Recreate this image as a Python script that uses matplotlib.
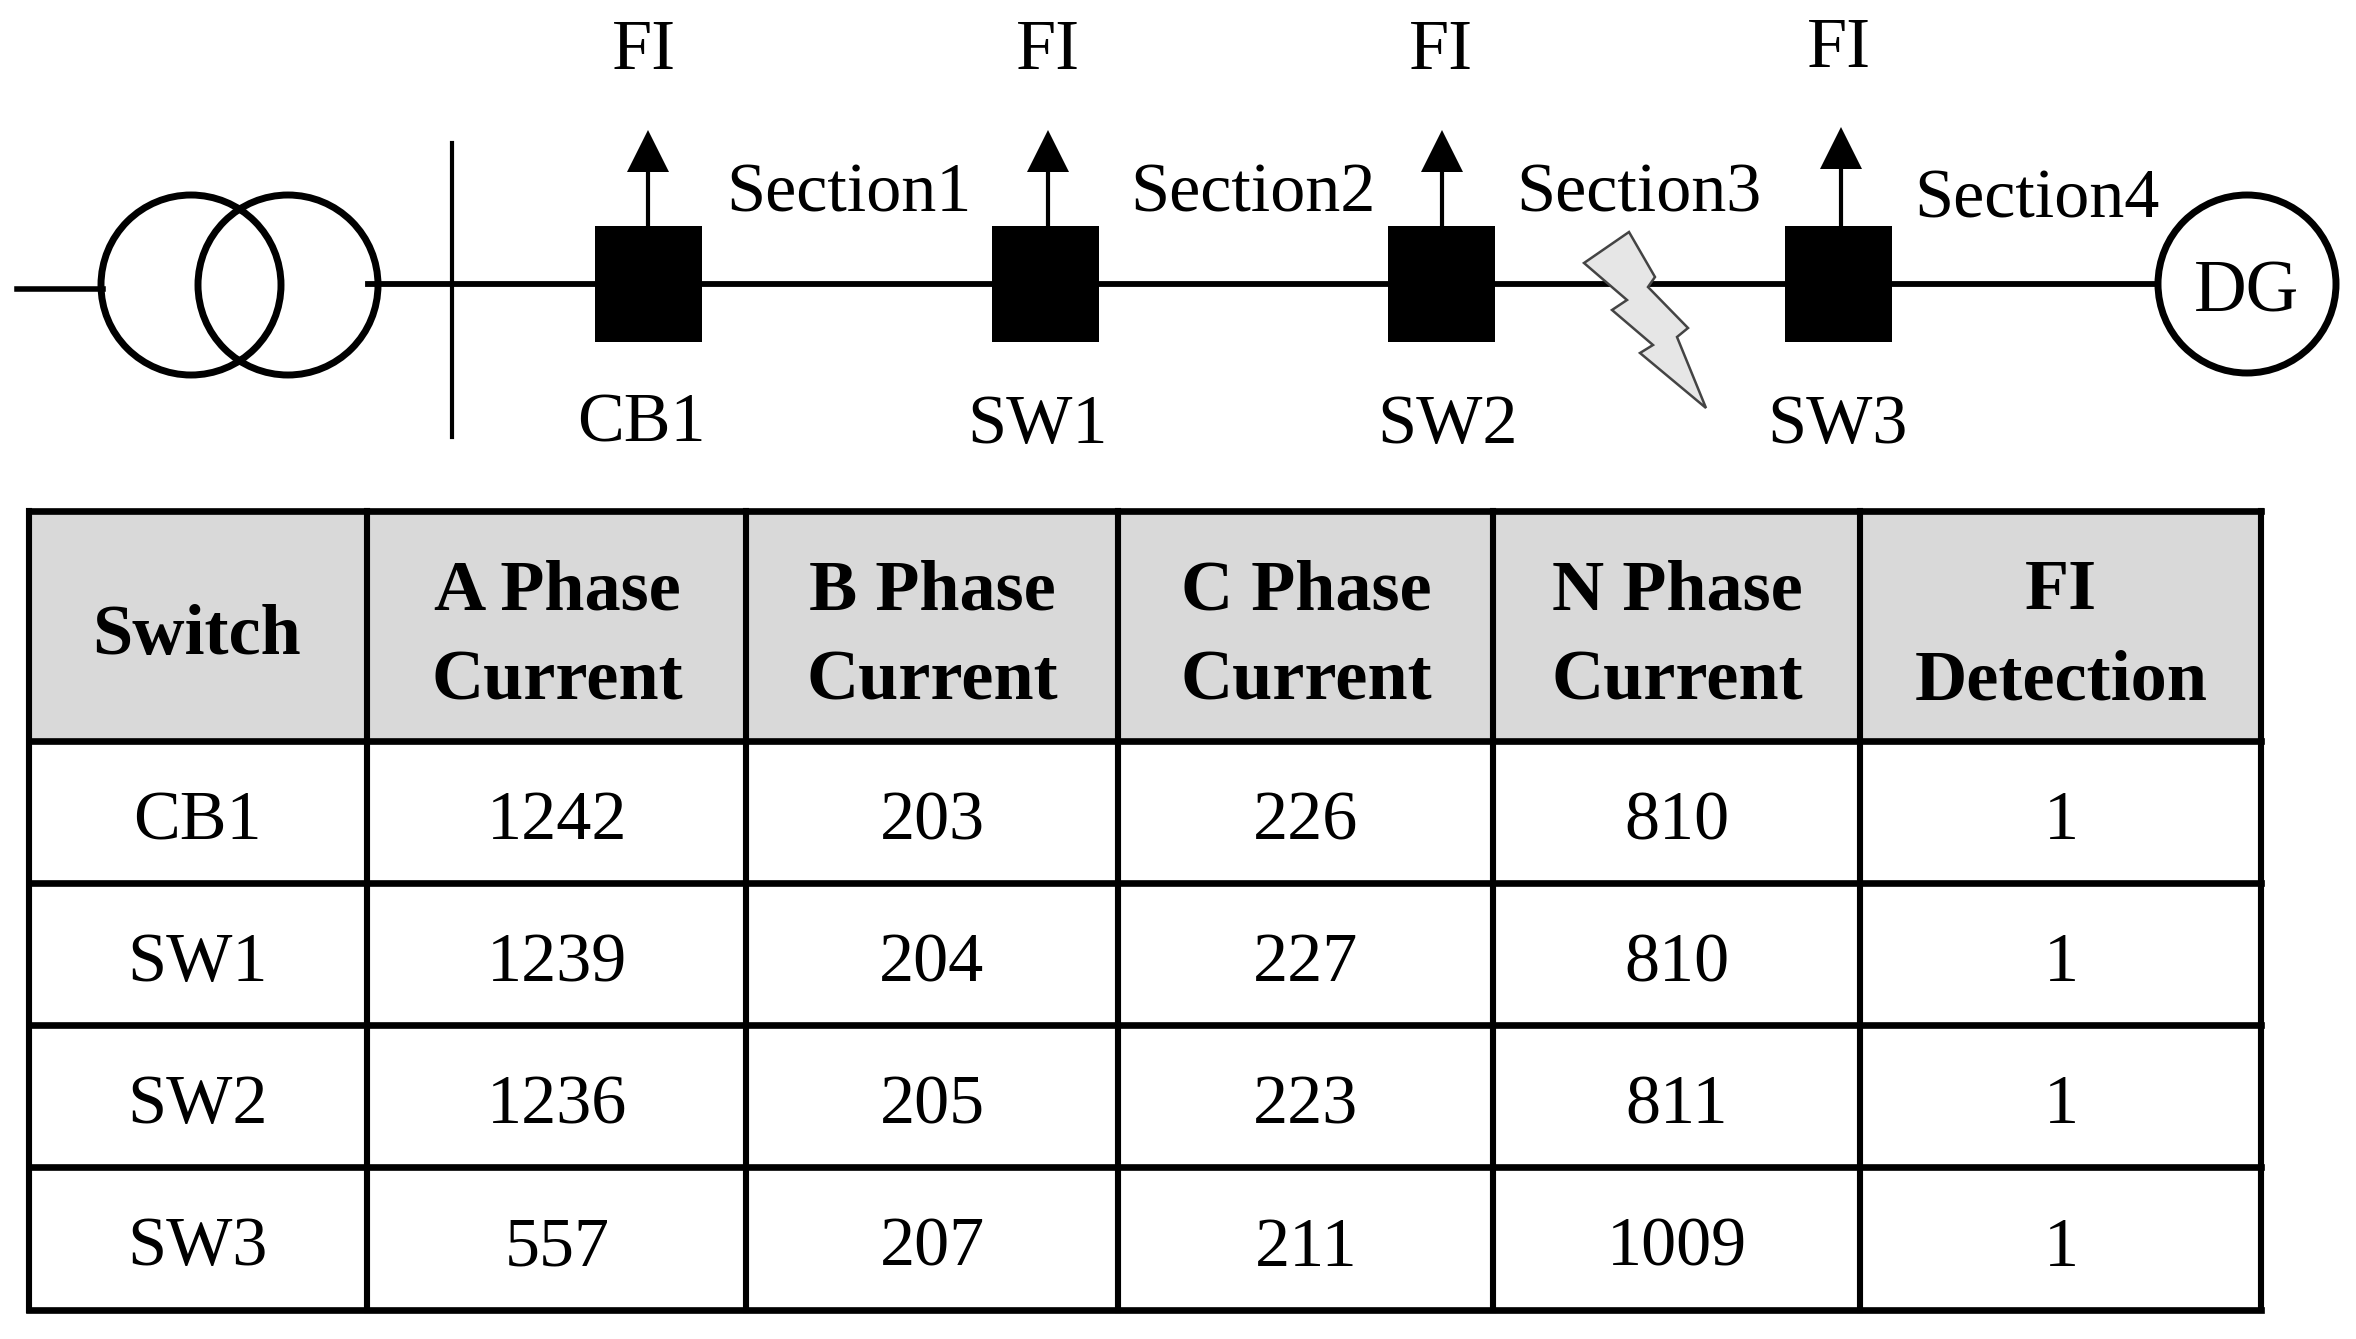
import matplotlib
matplotlib.use('Agg')
import matplotlib.pyplot as plt
from matplotlib.patches import Circle, Rectangle, Polygon

plt.rcParams['font.family'] = ['Liberation Serif', 'DejaVu Serif']

# table content
header_top = ['', 'A Phase', 'B Phase', 'C Phase', 'N Phase', 'FI']
header_bottom = ['', 'Current', 'Current', 'Current', 'Current', 'Detection']
switches = ['CB1', 'SW1', 'SW2', 'SW3']
a_phase = [1242, 1239, 1236, 557]
b_phase = [203, 204, 205, 207]
c_phase = [226, 227, 223, 211]
n_phase = [810, 810, 811, 1009]
fi_detection = [1, 1, 1, 1]

# single line diagram labels
section_labels = ['Section1', 'Section2', 'Section3', 'Section4']

# layout, in pixels of the 2356x1339 image
col_lines = [29, 367, 746, 1118, 1493, 1860, 2261]
row_lines = [511, 741, 883, 1025, 1167, 1310]
col_centers = [197, 557, 932, 1306, 1677, 2061]

fig = plt.figure(figsize=(23.56, 13.39), dpi=100)
ax = fig.add_axes([0, 0, 1, 1])
ax.set_xlim(0, 2356)
ax.set_ylim(1339, 0)
ax.axis('off')

# transformer
ax.plot([17, 103], [289, 289], color='black', lw=4.0)
ax.add_patch(Circle((191, 285), 90, fill=False, ec='black', lw=5.0))
ax.add_patch(Circle((288, 285), 90, fill=False, ec='black', lw=5.0))

# bus and feeder
ax.plot([368, 2158], [284, 284], color='black', lw=4.2, zorder=1)
ax.plot([452, 452], [143, 437], color='black', lw=3.0)

# switches with fault indicators
box_left = [595, 992, 1388, 1785]
arrow_x = [648, 1048, 1442, 1841]
arrow_top = [130, 130, 130, 127]
fi_x = [644, 1048, 1441, 1839]
fi_y = [69, 69, 69, 67]
name_x = [641, 1037, 1448, 1837]
name_y = [442, 443, 443, 443]
for i in range(4):
    ax.add_patch(Rectangle((box_left[i], 226), 107, 116, color='black', lw=0, zorder=2))
    ax.plot([arrow_x[i], arrow_x[i]], [arrow_top[i] + 40, 226], color='black', lw=3.0)
    ax.add_patch(Polygon([(arrow_x[i], arrow_top[i]),
                          (arrow_x[i] - 21, arrow_top[i] + 42),
                          (arrow_x[i] + 21, arrow_top[i] + 42)], color='black', lw=0))
    ax.text(fi_x[i], fi_y[i], 'FI', fontsize=52, ha='center', va='baseline')
    ax.text(name_x[i], name_y[i], switches[i], fontsize=50.5, ha='center', va='baseline')

section_x = [849, 1253, 1639, 2037]
section_y = [211, 211, 211, 217]
for i in range(4):
    ax.text(section_x[i], section_y[i], section_labels[i], fontsize=50.5, ha='center', va='baseline')

# DG source
ax.add_patch(Circle((2247, 284), 89, fc='white', ec='black', lw=5.0, zorder=3))
ax.text(2246, 311, 'DG', fontsize=52.5, ha='center', va='baseline', zorder=4)

# fault lightning mark
bolt = [(1629, 232), (1584, 263), (1627, 300), (1612, 310), (1653, 345), (1640, 353),
        (1706, 408), (1677, 337), (1688, 328), (1648, 287), (1655, 277)]
ax.add_patch(Polygon(bolt, closed=True, fc='#e6e6e6', ec='#444444', lw=1.8, zorder=5))

# table
ax.add_patch(Rectangle((col_lines[0], row_lines[0]), col_lines[-1] - col_lines[0],
                       row_lines[1] - row_lines[0], fc='#d9d9d9', ec='none', zorder=1))
for x in col_lines:
    ax.plot([x, x], [row_lines[0], row_lines[-1]], color='black', lw=4.4,
            solid_capstyle='projecting', zorder=2)
for y in row_lines:
    ax.plot([col_lines[0], col_lines[-1]], [y, y], color='black', lw=4.8,
            solid_capstyle='projecting', zorder=2)

ax.text(col_centers[0], 654, 'Switch', fontsize=52, fontweight='bold', ha='center', va='baseline')
for c in range(1, 6):
    ax.text(col_centers[c], 609, header_top[c], fontsize=52, fontweight='bold', ha='center', va='baseline')
    ax.text(col_centers[c], 699, header_bottom[c], fontsize=52, fontweight='bold', ha='center', va='baseline')

columns = [switches, a_phase, b_phase, c_phase, n_phase, fi_detection]
for c, column in enumerate(columns):
    for r, value in enumerate(column):
        y = (row_lines[r + 1] + row_lines[r + 2]) / 2 + 27
        ax.text(col_centers[c], y, str(value), fontsize=50.5, ha='center', va='baseline')

fig.savefig('out.png', dpi=100, facecolor='white')
